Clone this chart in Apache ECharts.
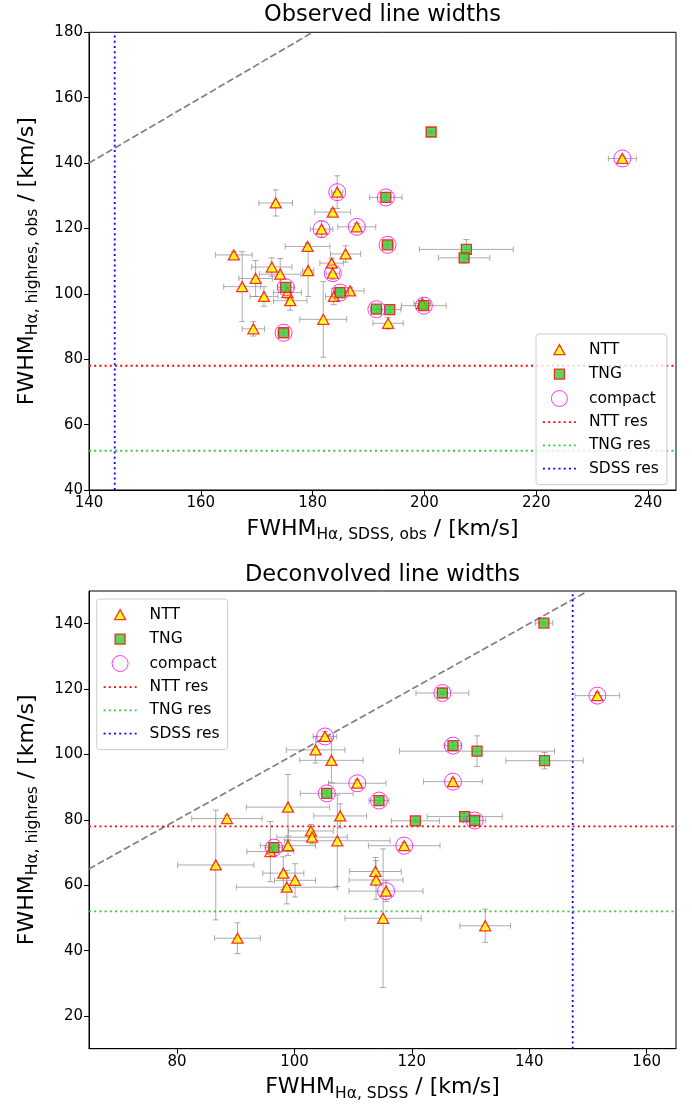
<!DOCTYPE html>
<html><head><meta charset="utf-8">
<script src="https://cdn.jsdelivr.net/npm/echarts@6/dist/echarts.min.js"></script>
<style>html,body{margin:0;padding:0;background:#fff;}#c1,#c2{width:692px;height:554px;}</style>
</head><body><div id="c1"></div><div id="c2"></div>
<script>
// ---------- Observed line widths ----------
const obsNTT_x    = [184.4,173.4,183.6,181.6,187.9,179.1,165.9,185.9,183.4,172.7,179.2,183.6,174.2,169.8,167.4,175.5,176.0,171.3,186.7,183.8,193.5,181.9,169.4,235.4,199.6];
const obsNTT_y    = [131.1,127.8,125.0,119.8,120.5,114.5,111.9,112.2,109.4,108.2,107.1,106.3,106.0,104.7,102.2,100.4,97.9,99.2,100.9,99.2,91.0,92.2,89.3,141.4,97.0];
const obsNTT_xerr = [1.0,3.0,3.2,2.0,3.4,4.0,3.3,2.7,2.1,3.6,1.0,1.2,3.7,3.0,3.3,2.5,3.0,2.5,2.5,1.5,2.7,4.2,2.0,2.5,1.5];
const obsNTT_yerr = [5.0,4.0,1.0,2.5,1.0,1.0,1.0,2.5,1.5,2.8,7.9,2.0,4.8,5.5,10.7,2.0,2.9,3.0,1.0,2.5,1.8,11.6,2.2,0.8,1.0];

const obsTNG_x    = [201.2,193.1,193.4,175.2,184.9,191.4,193.8,199.9,174.8,207.5,207.1];
const obsTNG_y    = [149.5,129.5,115.0,102.0,100.4,95.3,95.2,96.4,88.1,113.6,111.0];
const obsTNG_xerr = [0.8,2.9,1.0,1.5,1.0,1.0,2.0,4.0,1.0,8.4,4.6];
const obsTNG_yerr = [0.5,1.0,1.0,1.0,1.0,1.0,1.0,1.0,1.0,3.0,1.5];

const obsCompact_x = [184.4,193.1,181.6,187.9,193.4,183.6,175.2,184.9,191.4,199.9,174.8,235.4];
const obsCompact_y = [131.1,129.5,119.8,120.5,115.0,106.3,102.0,100.4,95.3,96.4,88.1,141.4];

const obsRes = {NTT: 78, TNG: 52, SDSS: 144.6};
const obsXTicks = [140,160,180,200,220,240];
const obsYTicks = [40,60,80,100,120,140,160,180];

// ---------- Deconvolved line widths ----------
const decNTT_x    = [105.2,103.6,106.3,110.7,98.9,107.8,88.5,102.8,103.0,107.3,98.9,95.9,118.7,86.6,98.1,100.1,98.7,113.8,113.9,115.6,115.1,90.3,132.5,151.6,127.0];
const decNTT_y    = [105.5,101.4,98.2,91.2,83.9,81.2,80.4,76.6,74.7,73.6,72.1,70.3,72.1,66.2,63.7,61.5,59.4,64.2,61.6,58.2,49.9,43.8,47.6,118.0,91.7];
const decNTT_xerr = [2.0,5.0,5.4,4.9,7.1,4.5,6.0,3.8,6.0,9.0,4.7,4.0,6.1,6.5,3.5,3.5,8.6,4.4,4.6,6.3,6.5,3.9,4.3,3.8,5.0];
const decNTT_yerr = [1.5,4.0,6.8,1.0,10.0,3.7,1.0,2.0,2.0,14.0,3.0,9.2,1.0,16.8,5.0,5.1,5.1,4.3,5.9,3.2,21.2,4.7,5.1,1.0,1.0];

const decTNG_x    = [142.5,125.2,127.0,131.1,142.6,105.5,114.4,120.6,129.0,130.7,96.5];
const decTNG_y    = [140.2,118.8,102.7,101.0,98.1,88.1,85.9,79.7,81.0,79.8,71.5];
const decTNG_xerr = [1.5,4.5,1.5,13.2,6.6,4.5,1.7,4.1,6.4,1.9,1.5];
const decTNG_yerr = [0.5,0.5,1.0,4.7,2.5,1.0,1.0,0.5,1.0,1.0,1.5];

const decCompact_x = [105.2,110.7,105.5,114.4,96.5,118.7,115.6,151.6,125.2,127.0,127.0,130.7];
const decCompact_y = [105.5,91.2,88.1,85.9,71.5,72.1,58.2,118.0,118.8,102.7,91.7,79.8];

const decRes = {NTT: 78, TNG: 52, SDSS: 147.4};
const decXTicks = [80,100,120,140,160];
const decYTicks = [20,40,60,80,100,120,140];

const FONT = 'DejaVu Sans';
const zip = (a, b) => a.map((v, i) => [v, b[i]]);
const zip4 = (a, b, c, d) => a.map((v, i) => [v, b[i], c[i], d[i]]);

function errRender(params, api) {
  const x = api.value(0), y = api.value(1), xe = api.value(2), ye = api.value(3);
  const c = api.coord([x, y]);
  const l = api.coord([x - xe, y]), r = api.coord([x + xe, y]);
  const t = api.coord([x, y + ye]), b = api.coord([x, y - ye]);
  const cap = 3;
  const style = {stroke: 'rgba(128,128,128,0.65)', lineWidth: 1, fill: null};
  const ln = (x1, y1, x2, y2) => ({type: 'line', shape: {x1, y1, x2, y2}, style});
  return {type: 'group', children: [
    ln(l[0], c[1], r[0], c[1]),
    ln(l[0], c[1] - cap, l[0], c[1] + cap),
    ln(r[0], c[1] - cap, r[0], c[1] + cap),
    ln(c[0], t[1], c[0], b[1]),
    ln(c[0] - cap, t[1], c[0] + cap, t[1]),
    ln(c[0] - cap, b[1], c[0] + cap, b[1])
  ]};
}

const triIcon = 'path://M0,0M16,16M8,3L13.5,13L2.5,13Z';
const sqIcon = 'path://M0,0M16,16M3,3H13V13H3Z';
const noSym = {color: 'rgba(0,0,0,0)', borderColor: 'rgba(0,0,0,0)', borderWidth: 0};

function nameRich(sub) {
  return '{m|FWHM}{s|' + sub + '}{m| / [km/s]}';
}
const richStyle = {
  m: {fontSize: 22, fontFamily: FONT, color: '#000', lineHeight: 30, verticalAlign: 'middle'},
  s: {fontSize: 15.5, fontFamily: FONT, color: '#000', lineHeight: 30, verticalAlign: 'bottom', padding: [0, 0, 1, 0]}
};

function makeOption(cfg) {
  const dotted = [2, 3.2];
  return {
    animation: false,
    textStyle: {fontFamily: FONT},
    graphic: [{type: 'text', x: 382.5, y: cfg.titleY, style: {text: cfg.title, fontSize: 22.5, fontFamily: FONT, fill: '#000', align: 'center', verticalAlign: 'middle'}}],
    grid: {left: 89, top: cfg.gridTop, width: 587, height: 457.7, show: true, borderColor: '#000', borderWidth: 1, containLabel: false},
    xAxis: {
      type: 'value', min: cfg.xmin, max: cfg.xmax,
      axisLine: {show: true, lineStyle: {color: '#000', width: 1}},
      axisTick: {show: true, length: 5, lineStyle: {color: '#000', width: 1}, customValues: cfg.xTicks},
      axisLabel: {fontSize: 15, color: '#000', fontFamily: FONT, margin: 6, customValues: cfg.xTicks},
      splitLine: {show: false},
      name: nameRich(cfg.xsub), nameLocation: 'middle', nameGap: 24,
      nameTextStyle: {rich: richStyle}
    },
    yAxis: {
      type: 'value', min: cfg.ymin, max: cfg.ymax,
      axisLine: {show: true, lineStyle: {color: '#000', width: 1}},
      axisTick: {show: true, length: 5, lineStyle: {color: '#000', width: 1}, customValues: cfg.yTicks},
      axisLabel: {fontSize: 15, color: '#000', fontFamily: FONT, margin: 6, customValues: cfg.yTicks},
      splitLine: {show: false},
      name: nameRich(cfg.ysub), nameLocation: 'middle', nameGap: 47, nameRotate: 90,
      nameTextStyle: {rich: richStyle}
    },
    legend: {
      orient: 'vertical', left: cfg.legLeft, top: cfg.legTop,
      itemWidth: 33, itemHeight: 16, itemGap: 7.2,
      selectedMode: false,
      backgroundColor: 'rgba(255,255,255,0.8)', borderColor: '#cccccc', borderWidth: 1, borderRadius: 3,
      padding: [7, 8, 8, 6],
      textStyle: {fontSize: 15.5, lineHeight: 16, color: '#000', fontFamily: FONT, padding: [0, 0, 0, 8]},
      lineStyle: {width: 1.8},
      data: [
        {name: 'NTT', icon: triIcon, itemStyle: {borderWidth: 1.3}},
        {name: 'TNG', icon: sqIcon, itemStyle: {borderWidth: 1.3}},
        {name: 'compact', icon: 'circle', itemStyle: {borderWidth: 1}},
        {name: 'NTT res', itemStyle: noSym},
        {name: 'TNG res', itemStyle: noSym},
        {name: 'SDSS res', itemStyle: noSym}
      ]
    },
    series: [
      {type: 'line', name: 'dash', data: cfg.diag, symbol: 'none', silent: true, z: 1,
       lineStyle: {color: '#808080', width: 1.7, type: [7, 3]}},
      {type: 'line', name: 'NTT res', data: [[cfg.xmin, cfg.res.NTT], [cfg.xmax, cfg.res.NTT]], symbol: 'none', silent: true, z: 1,
       itemStyle: noSym, lineStyle: {color: '#ff0000', width: 1.8, type: dotted}},
      {type: 'line', name: 'TNG res', data: [[cfg.xmin, cfg.res.TNG], [cfg.xmax, cfg.res.TNG]], symbol: 'none', silent: true, z: 1,
       itemStyle: noSym, lineStyle: {color: '#33cc33', width: 1.8, type: dotted}},
      {type: 'line', name: 'SDSS res', data: [[cfg.res.SDSS, cfg.ymin], [cfg.res.SDSS, cfg.ymax]], symbol: 'none', silent: true, z: 1,
       itemStyle: noSym, lineStyle: {color: '#0000ff', width: 1.8, type: dotted}},
      {type: 'custom', name: 'errNTT', data: cfg.nttErr, renderItem: errRender, silent: true, z: 2},
      {type: 'custom', name: 'errTNG', data: cfg.tngErr, renderItem: errRender, silent: true, z: 2},
      {type: 'scatter', name: 'NTT', data: cfg.ntt, symbol: 'triangle', symbolSize: [11, 10], silent: true, z: 3,
       itemStyle: {color: '#ffff00', borderColor: '#ff0000', borderWidth: 1.3}},
      {type: 'scatter', name: 'TNG', data: cfg.tng, symbol: 'rect', symbolSize: 10, silent: true, z: 4,
       itemStyle: {color: '#33cc33', borderColor: '#ff0000', borderWidth: 1.3}},
      {type: 'scatter', name: 'compact', data: cfg.compact, symbol: 'circle', symbolSize: 17, silent: true, z: 5,
       itemStyle: {color: 'rgba(0,0,0,0)', borderColor: '#ff00ff', borderWidth: 1}}
    ]
  };
}

const c1 = echarts.init(document.getElementById('c1'), null, {renderer: 'canvas'});
c1.setOption(makeOption({
  title: 'Observed line widths', titleY: 15, gridTop: 32.3,
  xmin: 140, xmax: 245, ymin: 40, ymax: 180, xTicks: obsXTicks, yTicks: obsYTicks,
  xsub: 'Hα, SDSS, obs', ysub: 'Hα, highres, obs',
  legLeft: 536, legTop: 334,
  res: obsRes, diag: [[140, 140], [180, 180]],
  ntt: zip(obsNTT_x, obsNTT_y), tng: zip(obsTNG_x, obsTNG_y), compact: zip(obsCompact_x, obsCompact_y),
  nttErr: zip4(obsNTT_x, obsNTT_y, obsNTT_xerr, obsNTT_yerr), tngErr: zip4(obsTNG_x, obsTNG_y, obsTNG_xerr, obsTNG_yerr)
}));

const c2 = echarts.init(document.getElementById('c2'), null, {renderer: 'canvas'});
c2.setOption(makeOption({
  title: 'Deconvolved line widths', titleY: 21, gridTop: 37,
  xmin: 65, xmax: 165, ymin: 10, ymax: 150, xTicks: decXTicks, yTicks: decYTicks,
  xsub: 'Hα, SDSS', ysub: 'Hα, highres',
  legLeft: 96.7, legTop: 45,
  res: decRes, diag: [[65, 65], [150, 150]],
  ntt: zip(decNTT_x, decNTT_y), tng: zip(decTNG_x, decTNG_y), compact: zip(decCompact_x, decCompact_y),
  nttErr: zip4(decNTT_x, decNTT_y, decNTT_xerr, decNTT_yerr), tngErr: zip4(decTNG_x, decTNG_y, decTNG_xerr, decTNG_yerr)
}));
</script>
</body></html>
